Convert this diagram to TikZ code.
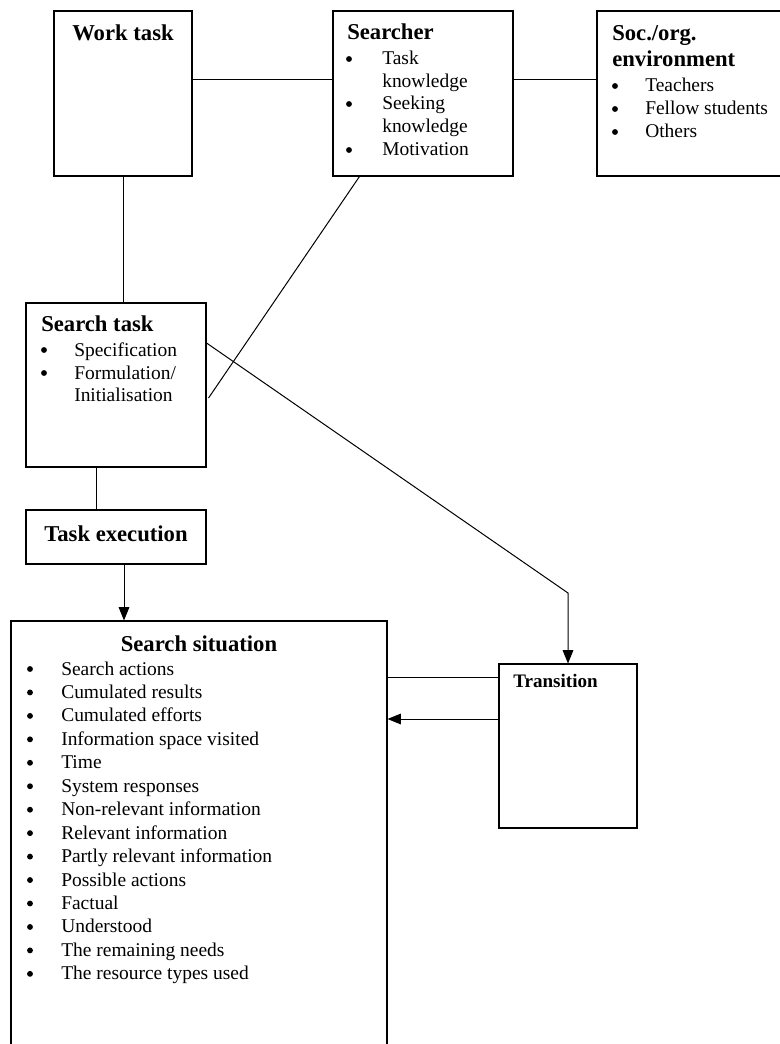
\documentclass[tikz,border=0pt]{standalone}
\usepackage{fontspec}
\setmainfont{Liberation Serif}
\usetikzlibrary{fit,calc,arrows.meta}
\begin{document}
\begin{tikzpicture}[x=0.75pt,y=-0.75pt,
  box/.style={draw,line width=0.8pt,inner sep=0pt},
  title/.style={font=\fontsize{17}{20}\selectfont\bfseries,inner sep=0pt},
  smalltitle/.style={font=\fontsize{14.3}{17}\selectfont\bfseries,inner sep=0pt},
  item/.style={font=\fontsize{14.6}{17.5}\selectfont,inner sep=0pt,anchor=base west},
  dot/.style={circle,fill,inner sep=0pt,minimum size=4.4pt},
  link/.style={line width=0.75pt},
  arr/.style={link,-{Triangle[width=8pt,length=10pt]}}]
\clip (0,0) rectangle (780,1044);

% boxes
\node[box,fit={(54,11) (192,176)}] (work) {};
\node[box,fit={(333,11) (513,176)}] (searcher) {};
\node[box,fit={(597,11) (800,176)}] (soc) {};
\node[box,fit={(26,303) (206,467)}] (stask) {};
\node[box,fit={(26,510) (206,564)}] (texec) {};
\node[box,fit={(11,621) (387,1080)}] (ssit) {};
\node[box,fit={(499,664) (637,828)}] (trans) {};

% titles
\node[title,anchor=base] (workT) at (123,40.5) {Work task};
\node[title,anchor=base west] (searcherT) at (347,40) {Searcher};
\node[title,anchor=base west] (socT1) at (612,41) {Soc./org.};
\node[title,anchor=base west] (socT2) at (612,67) {environment};
\node[title,anchor=base west] (staskT) at (41,332) {Search task};
\node[title,anchor=base] (texecT) at (116,541) {Task execution};
\node[title,anchor=base] (ssitT) at (199,651) {Search situation};
\node[smalltitle,anchor=base west] (transT) at (513,687) {Transition};

% searcher items
\node[dot] (sb1) at (349,59) {};
\node[item] (si1) at (382,65) {Task};
\node[item] (si2) at (382,88) {knowledge};
\node[dot] (sb3) at (349,104) {};
\node[item] (si3) at (382,110) {Seeking};
\node[item] (si4) at (382,133) {knowledge};
\node[dot] (sb5) at (349,150) {};
\node[item] (si5) at (382,156) {Motivation};

% soc./org. items
\foreach \t [count=\i] in {Teachers,Fellow students,Others}{
  \node[dot] (ob\i) at (615,{92+23*(\i-1)-6}) {};
  \node[item] (oi\i) at (645,{92+23*(\i-1)}) {\t};
}

% search task items
\node[dot] (tb1) at (44,350) {};
\node[item] (ti1) at (74,356) {Specification};
\node[dot] (tb2) at (44,373) {};
\node[item] (ti2) at (74,379) {Formulation/};
\node[item] (ti3) at (74,401.5) {Initialisation};

% search situation items
\foreach \t [count=\i] in {Search actions,Cumulated results,Cumulated efforts,
  Information space visited,Time,System responses,Non-relevant information,
  Relevant information,Partly relevant information,Possible actions,Factual,
  Understood,The remaining needs,The resource types used}{
  \node[dot] (xb\i) at (30,{675+23.45*(\i-1)-6}) {};
  \node[item] (xi\i) at (61,{675+23.45*(\i-1)}) {\t};
}

% connectors
\draw[link] (work.east |- 0,80) -- (searcher.west |- 0,80);
\draw[link] (searcher.east |- 0,80) -- (soc.west |- 0,80);
\draw[link] (work.south) -- (work.south |- stask.north);
\draw[link] ($(searcher.south west)+(27,0)$) -- ($(stask.east |- 0,398)+(2,0)$);
\draw[arr] (stask.east |- 0,343) -- (trans.north |- 0,593) -- (trans.north);
\draw[link] ($(stask.south)+(-20,0)$) -- ($(stask.south |- texec.north)+(-20,0)$);
\draw[arr] ($(texec.south)+(8,0)$) -- ($(texec.south |- ssit.north)+(8,0)$);
\draw[link] (trans.west |- 0,677) -- (ssit.east |- 0,677);
\draw[arr] (trans.west |- 0,719) -- (ssit.east |- 0,719);
\end{tikzpicture}
\end{document}
